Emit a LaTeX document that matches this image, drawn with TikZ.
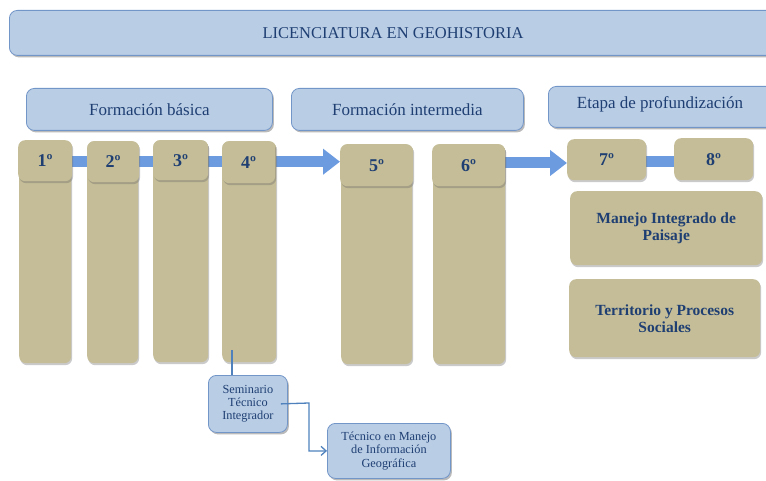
\documentclass[tikz,border=0pt]{standalone}
\usepackage{fontspec}
\setmainfont{Liberation Serif}
\usetikzlibrary{shadows,arrows.meta,backgrounds,calc}
\definecolor{bluefill}{HTML}{B9CDE5}
\definecolor{blueline}{HTML}{7396C8}
\definecolor{tanfill}{HTML}{C4BD97}
\definecolor{txt}{HTML}{1F3F73}
\definecolor{band}{HTML}{6C9BE0}
\definecolor{conn}{HTML}{4F81BD}
\begin{document}
\begin{tikzpicture}[x=1pt,y=-1pt,
  bluebox/.style={draw=blueline, line width=0.8pt, fill=bluefill, rounded corners=8pt,
    drop shadow={shadow xshift=1.5pt, shadow yshift=-2pt, opacity=0.45, fill=black!60},
    anchor=north west, inner sep=0pt, text=txt, align=center},
  tanbox/.style={fill=tanfill, rounded corners=7pt,
    drop shadow={shadow xshift=1pt, shadow yshift=-2pt, opacity=0.35, fill=black!60},
    anchor=north west, inner sep=0pt, text=txt, align=center},
  semhead/.style={tanbox, font=\bfseries\fontsize{18}{20}\selectfont, text depth=0pt},
  phasefont/.style={font=\fontsize{17}{19}\selectfont},
  bigtext/.style={font=\bfseries\fontsize{15.5}{17}\selectfont},
  smalltext/.style={font=\fontsize{12.3}{13}\selectfont},
  bandline/.style={band, line width=11pt},
  bandarrow/.style={bandline, -{Triangle[width=25pt,length=17pt]}},
  connline/.style={conn, line width=1.3pt},
]
\useasboundingbox (0,0) rectangle (766,481);
% title
\node[bluebox, minimum width=780pt, minimum height=45pt] (title) at (9,10) {};
\node[text=txt, font=\fontsize{16.5}{18}\selectfont] (titletext) at (393,33) {LICENCIATURA EN GEOHISTORIA};
% phases
\node[bluebox, minimum width=246pt, minimum height=42pt, phasefont] (p1) at (26,88) {Formación básica};
\node[bluebox, minimum width=232pt, minimum height=42pt, phasefont] (p2) at (291,88) {Formación intermedia};
\node[bluebox, minimum width=240pt, minimum height=41pt] (p3) at (548,86) {};
\node[text=txt, phasefont] (p3text) at (660,104) {Etapa de profundización};
% columns
\node[tanbox, minimum width=52pt, minimum height=222pt] (c1) at (19,141) {};
\node[tanbox, minimum width=51pt, minimum height=222pt] (c2) at (87,141) {};
\node[tanbox, minimum width=55pt, minimum height=222pt] (c3) at (153,140) {};
\node[tanbox, minimum width=54pt, minimum height=221pt] (c4) at (222,141) {};
\node[tanbox, minimum width=71pt, minimum height=220pt] (c5) at (341,144) {};
\node[tanbox, minimum width=72pt, minimum height=220pt] (c6) at (433,144) {};
% headers
\node[semhead, minimum width=54pt, minimum height=41pt] (h1) at (18,140) {1º};
\node[semhead, minimum width=52pt, minimum height=41pt] (h2) at (87,141) {2º};
\node[semhead, minimum width=55pt, minimum height=40pt] (h3) at (153,140) {3º};
\node[semhead, minimum width=53pt, minimum height=42pt] (h4) at (222,141) {4º};
\node[semhead, minimum width=73pt, minimum height=42pt] (h5) at (340,144) {5º};
\node[semhead, minimum width=73pt, minimum height=42pt] (h6) at (432,144) {6º};
\node[semhead, minimum width=79pt, minimum height=41pt] (h7) at (567,139) {7º};
\node[semhead, minimum width=79pt, minimum height=42pt] (h8) at (674,138) {8º};
% arrows behind
\begin{scope}[on background layer]
\draw[bandarrow] ($(h1.east)+(0,1)$) -- ($(h5.west |- h1.east)+(0,1)$);
\draw[bandarrow] (h6.east |- 0,163) -- (h7.west |- 0,163);
\draw[bandline] (h7.east |- 0,162) -- (h8.west |- 0,162);
\end{scope}
% right boxes
\node[tanbox, minimum width=192pt, minimum height=74pt, bigtext] (m1) at (570,191) {Manejo Integrado de\\Paisaje};
\node[tanbox, minimum width=191pt, minimum height=78pt, bigtext] (m2) at (569,279) {Territorio y Procesos\\Sociales};
% bottom
\node[bluebox, minimum width=79pt, minimum height=57pt, smalltext] (sem) at (208,375) {Seminario\\Técnico\\Integrador};
\node[bluebox, minimum width=123pt, minimum height=55pt, smalltext, font=\fontsize{12.3}{13.5}\selectfont] (tec) at (327,423) {Técnico en Manejo\\de Información\\Geográfica};
\coordinate (s4) at (232,350);
\draw[connline] (s4) -- (s4 |- sem.north);
\coordinate (e1) at (309,403);
\draw[connline, -{Straight Barb[length=5pt,width=9pt]}] ($(sem.east)+(-7,0)$) -- (e1) |- (tec.west);
\end{tikzpicture}
\end{document}
